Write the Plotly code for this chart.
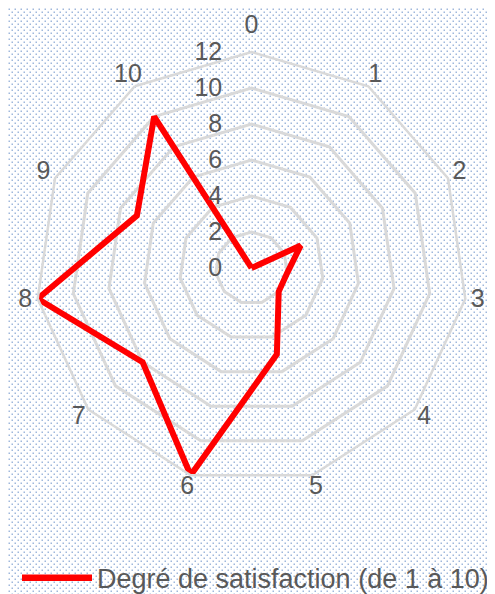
import plotly.graph_objects as go

categories = ["0", "1", "2", "3", "4", "5", "6", "7", "8", "9", "10"]
values = [0, 0, 3, 2, 2, 5, 12, 8, 12, 7, 10]
radial_ticks = [0, 2, 4, 6, 8, 10, 12]
series_name = "Degré de satisfaction (de 1 à 10)"

# The page body adds an 8px margin, so the figure is sized to the visible area.
W, H = 487, 586
FONT = "Liberation Sans"
GRAY = "#595959"
GRID = "#d9d9d9"
RED = "#ff0000"

# polar geometry in figure pixels
CX, CY, R = 243.5, 260, 216
R_LABEL = 228.6  # radius of the (invisible) label ring
RMAX = 12
label_positions = ["top center"] + ["middle center"] * (len(categories) - 1)

pattern_svg = (
    "data:image/svg+xml;utf8,"
    f"<svg xmlns='http://www.w3.org/2000/svg' width='{W}' height='{H}'>"
    "<defs><pattern id='p' width='6' height='6' patternUnits='userSpaceOnUse'>"
    "<rect x='0.5' y='0.5' width='1.5' height='1.5' fill='%239fb8dc'/>"
    "<rect x='3.5' y='3.5' width='1.5' height='1.5' fill='%239fb8dc'/>"
    "</pattern></defs>"
    f"<rect width='{W}' height='{H}' fill='white'/>"
    f"<rect width='{W}' height='{H}' fill='url(%23p)'/></svg>"
)


def domain(rad):
    return dict(x=[(CX - rad) / W, (CX + rad) / W],
                y=[1 - (CY + rad) / H, 1 - (CY - rad) / H])


fig = go.Figure()
fig.add_trace(go.Scatterpolar(
    r=values + values[:1],
    theta=categories + categories[:1],
    mode="lines",
    line=dict(color=RED, width=6),
    name=series_name,
    showlegend=True,
    cliponaxis=False,
    subplot="polar",
))
# category labels, placed on an invisible outer ring
fig.add_trace(go.Scatterpolar(
    r=[RMAX] * len(categories),
    theta=categories,
    mode="text",
    text=categories,
    textposition=label_positions,
    textfont=dict(size=25, color=GRAY, family=FONT),
    showlegend=False,
    hoverinfo="skip",
    cliponaxis=False,
    subplot="polar2",
))

LEG_Y = 1 - 570 / H

fig.update_layout(
    width=W, height=H,
    margin=dict(l=0, r=0, t=0, b=0, autoexpand=False),
    paper_bgcolor="rgba(0,0,0,0)",
    plot_bgcolor="rgba(0,0,0,0)",
    font=dict(family=FONT, color=GRAY, size=25),
    images=[dict(source=pattern_svg, xref="paper", yref="paper", x=0, y=1,
                 sizex=1, sizey=1, xanchor="left", yanchor="top",
                 sizing="stretch", layer="below")],
    polar=dict(
        domain=domain(R),
        bgcolor="rgba(0,0,0,0)",
        gridshape="linear",
        angularaxis=dict(
            direction="clockwise", rotation=90,
            categoryorder="array", categoryarray=categories,
            showgrid=False, showline=True, linecolor=GRID, linewidth=2.5,
            ticks="", showticklabels=False,
        ),
        radialaxis=dict(
            range=[0, RMAX], tickvals=radial_ticks, angle=90, tickangle=90,
            side="counterclockwise",
            showline=False, ticks="outside", ticklen=20, tickcolor="rgba(0,0,0,0)",
            gridcolor=GRID, gridwidth=2.5,
            tickfont=dict(size=25, color=GRAY, family=FONT),
        ),
    ),
    polar2=dict(
        domain=domain(R_LABEL),
        bgcolor="rgba(0,0,0,0)",
        angularaxis=dict(
            direction="clockwise", rotation=90,
            categoryorder="array", categoryarray=categories,
            visible=False, showgrid=False, showline=False, ticks="",
        ),
        radialaxis=dict(range=[0, RMAX], visible=False, showgrid=False,
                        showline=False, ticks=""),
    ),
    showlegend=True,
    legend=dict(orientation="h", x=9 / W, y=LEG_Y, xanchor="left", yanchor="middle",
                itemwidth=70,
                font=dict(size=27, color=GRAY, family=FONT),
                bgcolor="rgba(0,0,0,0)"),
    shapes=[dict(type="line", xref="paper", yref="paper",
                 x0=14 / W, x1=84 / W, y0=LEG_Y, y1=LEG_Y,
                 line=dict(color=RED, width=6))],
)

fig.write_html("out.html")
